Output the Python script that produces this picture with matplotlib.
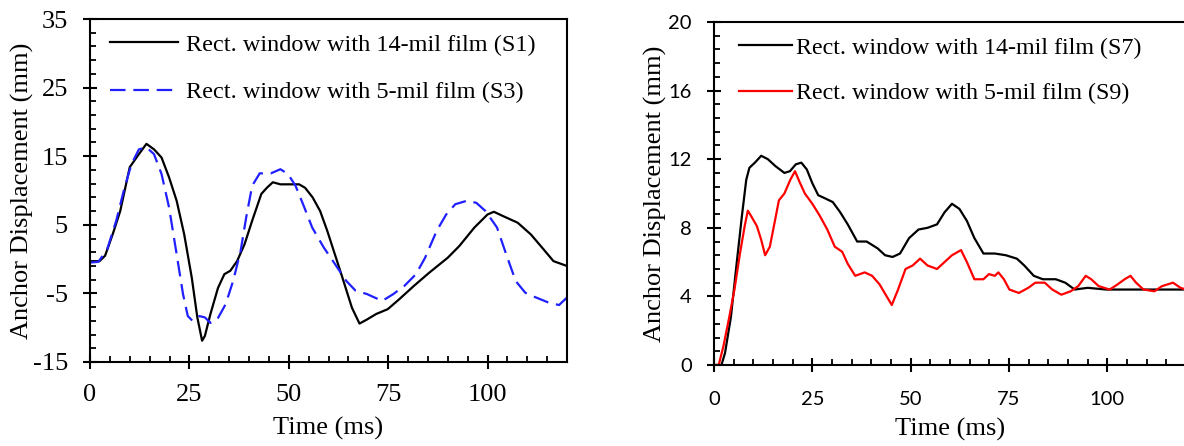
import matplotlib
matplotlib.use("Agg")
import matplotlib.pyplot as plt
from matplotlib.ticker import MultipleLocator, FixedLocator

plt.rcParams["axes.unicode_minus"] = False

# left panel: S1 (14-mil) and S3 (5-mil)
s1_t = [0, 2.4, 3.8, 5.7, 7.6, 10, 12.3, 14.2, 16.1, 18, 19.9, 21.8, 23.7, 25.6, 27, 28.2,
        28.9, 30.3, 32.2, 33.8, 35.3, 37, 38.9, 40.8, 43.1, 44.5, 46, 47.9, 52.6, 54.1, 56,
        57.9, 59.7, 61.6, 63.5, 65.9, 67.8, 69.7, 72, 74.9, 77.7, 81.5, 85.3, 90, 92.9,
        96.7, 100, 101.6, 103.8, 107.6, 110.9, 113.7, 116.6, 120]
s1_d = [-0.3, -0.3, 0.5, 3.6, 7.0, 13.4, 15.3, 16.8, 16.0, 14.8, 11.9, 8.5, 3.6, -2.7, -8.5,
        -11.9, -11.2, -8.0, -4.2, -2.2, -1.7, -0.3, 2.2, 5.6, 9.5, 10.4, 11.2, 10.9, 10.9,
        10.4, 9.0, 7.0, 4.1, 0.7, -2.7, -7.1, -9.4, -8.8, -8.0, -7.3, -5.9, -3.9, -2.0, 0.2,
        1.9, 4.6, 6.5, 6.9, 6.3, 5.3, 3.6, 1.7, -0.3, -1.0]

s3_t = [0, 2.1, 4.3, 6.6, 8.5, 10.4, 12.3, 14.2, 16.1, 18, 19.9, 21.8, 23.4, 24.6, 25.8,
        27.5, 28.9, 30.3, 32, 34.1, 36, 37.9, 39.3, 40.8, 42.7, 45.5, 47.9, 49.8, 51.7,
        53.6, 55.9, 58.8, 61.6, 64.5, 66.8, 69.7, 73.5, 76.3, 79.1, 82, 84.3, 87.2, 89.6,
        91.9, 94.8, 97.2, 99.5, 102.4, 104.7, 107.1, 109.5, 111.8, 115.2, 118, 120]
s3_d = [-0.5, -0.4, 1.4, 5.6, 10, 13.8, 16.0, 16.3, 15.3, 12.4, 7.5, 0.7, -5.1, -8.3, -9.0,
        -8.3, -8.5, -9.3, -8.8, -6.6, -3.2, 1.2, 6.1, 10.7, 12.5, 12.5, 13.1, 12.4, 10.7,
        8.0, 4.6, 1.7, -0.7, -3.2, -4.6, -5.1, -6.1, -5.1, -3.9, -2.2, 0.2, 4.1, 6.5, 8.0,
        8.5, 8.2, 7.0, 4.6, 0.7, -3.2, -4.9, -5.5, -6.3, -6.7, -5.6]

# right panel: S7 (14-mil) and S9 (5-mil)
s7_t = [0, 1.9, 2.8, 4.3, 5.7, 7.1, 8.2, 9.0, 10.4, 12, 13.7, 15.6, 17.9, 19.3, 20.8, 22.2,
        23.6, 25, 26.5, 28.4, 30.2, 32.1, 34, 36.4, 38.8, 41.6, 43.5, 45.4, 47.3, 49.6, 52,
        54.3, 56.7, 58.6, 60.5, 62.4, 64.3, 66.2, 68.5, 71.4, 74.2, 77, 78.9, 81.3, 83.6,
        86.9, 89.3, 91.7, 95, 99.7, 105.4, 111.1, 115.8, 120]
s7_d = [0, 0, 0.7, 2.8, 5.8, 8.7, 10.8, 11.5, 11.8, 12.2, 12.0, 11.6, 11.2, 11.3, 11.7, 11.8,
        11.4, 10.6, 9.9, 9.7, 9.5, 8.9, 8.2, 7.2, 7.2, 6.8, 6.4, 6.3, 6.5, 7.4, 7.9, 8.0, 8.2,
        8.9, 9.4, 9.1, 8.4, 7.4, 6.5, 6.5, 6.4, 6.2, 5.8, 5.2, 5.0, 5.0, 4.8, 4.4, 4.5, 4.4,
        4.4, 4.4, 4.4, 4.4]

s9_t = [0, 1.2, 2.4, 3.8, 5.2, 6.6, 7.8, 8.6, 9.4, 10.9, 12, 13, 14.2, 15.4, 16.5, 17.9,
        19.4, 20.6, 21.7, 23.1, 25, 26.9, 28.8, 30.7, 32.6, 34, 35.9, 38.3, 40.2, 42.1,
        43.9, 45.2, 46.8, 48.7, 50.5, 52.4, 54.3, 56.7, 58.6, 60.5, 62.8, 64.3, 66.2, 68.5,
        69.9, 71.4, 72.3, 73.7, 75.1, 77.5, 79.9, 81.7, 84.1, 86, 88.3, 90.7, 92.6, 94.5,
        95.9, 97.8, 100.6, 102.6, 104.4, 105.9, 107.3, 109.2, 112, 113.9, 116.7, 118.6, 120]
s9_d = [0, 0, 1.1, 2.7, 4.4, 6.5, 8.1, 9.0, 8.7, 8.1, 7.3, 6.4, 6.9, 8.3, 9.6, 10.0, 10.8,
        11.3, 10.7, 10.0, 9.4, 8.7, 7.9, 6.9, 6.6, 5.9, 5.2, 5.4, 5.2, 4.7, 4.0, 3.5, 4.4,
        5.6, 5.8, 6.2, 5.8, 5.6, 6.0, 6.4, 6.7, 6.0, 5.0, 5.0, 5.3, 5.2, 5.4, 5.0, 4.4, 4.2,
        4.5, 4.8, 4.8, 4.4, 4.1, 4.3, 4.6, 5.2, 5.0, 4.6, 4.4, 4.7, 5.0, 5.2, 4.8, 4.4, 4.3,
        4.6, 4.8, 4.5, 4.4]

left_yticks = [-15, -5, 5, 15, 25, 35]

W, H = 1184, 446
fig = plt.figure(figsize=(W / 100, H / 100), dpi=100)
serif = "Liberation Serif"

ax1 = fig.add_axes([90 / W, 1 - 362 / H, (567 - 90) / W, (362 - 19) / H])
ax2 = fig.add_axes([714 / W, 1 - 365 / H, (1186 - 714) / W, (365 - 22) / H])

ax1.plot(s1_t, s1_d, color="black", lw=1.6, label="Rect. window with 14-mil film (S1)")
ax1.plot(s3_t, s3_d, color="#2020ff", lw=1.6, dashes=(7, 3.5),
         label="Rect. window with 5-mil film (S3)")
ax2.plot(s7_t, s7_d, color="black", lw=1.6, label="Rect. window with 14-mil film (S7)")
ax2.plot(s9_t, s9_d, color="#ff0000", lw=1.6, label="Rect. window with 5-mil film (S9)")

ax1.set_xlim(0, 120)
ax1.set_ylim(-15, 35)
ax1.yaxis.set_major_locator(FixedLocator(left_yticks))
ax1.yaxis.set_minor_locator(MultipleLocator(2, offset=1))
ax2.set_xlim(0, 120)
ax2.set_ylim(0, 20)
ax2.yaxis.set_major_locator(MultipleLocator(4))
ax2.yaxis.set_minor_locator(MultipleLocator(0.8))

for ax in (ax1, ax2):
    ax.xaxis.set_major_locator(MultipleLocator(25))
    ax.xaxis.set_minor_locator(MultipleLocator(5))
    for s in ax.spines.values():
        s.set_linewidth(1.5)
    ax.tick_params(which="major", direction="inout", length=10, width=1.5, pad=11)
    ax.tick_params(which="minor", direction="in", length=4.5, width=1.3)

ax1.set_ylabel("Anchor Displacement (mm)", family=serif, fontsize=19, labelpad=-1)
ax2.set_ylabel("Anchor Displacement (mm)", family=serif, fontsize=19, labelpad=1)
ax1.set_xlabel("Time (ms)", family=serif, fontsize=19, labelpad=7.5)
ax2.tick_params(axis="x", which="major", pad=14)
ax2.set_xlabel("Time (ms)", family=serif, fontsize=19, labelpad=7)

for lab in ax1.get_xticklabels() + ax1.get_yticklabels():
    lab.set_family(serif)
    lab.set_fontsize(19)
for lab in ax2.get_xticklabels() + ax2.get_yticklabels():
    lab.set_family("Lato")
    lab.set_fontsize(14.5)

ax1.legend(loc="upper left", bbox_to_anchor=(0.022, 0.985), frameon=False,
           prop={"family": serif, "size": 17.5}, handlelength=2.8, handletextpad=0.3,
           labelspacing=1.05, borderaxespad=0)
ax2.legend(loc="upper left", bbox_to_anchor=(0.032, 0.985), frameon=False,
           prop={"family": serif, "size": 17.3}, handlelength=2.2, handletextpad=0.2,
           labelspacing=1.0, borderaxespad=0)

fig.savefig("out.png", dpi=100)
